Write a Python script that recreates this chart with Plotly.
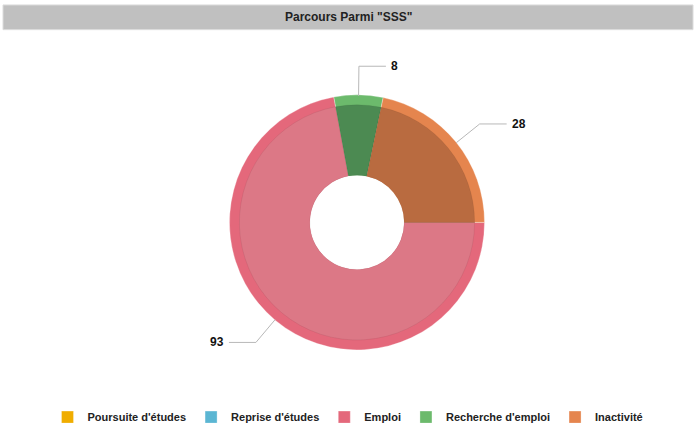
import math
import plotly.graph_objects as go

# ---- data ----
categories = ["Poursuite d'études", "Reprise d'études", "Emploi", "Recherche d'emploi", "Inactivité"]
values = [0, 0, 93, 8, 28]
title_text = 'Parcours Parmi "SSS"'

# ---- styles ----
rim_colors = ["#f0ad00", "#5bb6d3", "#e4687b", "#6cba6c", "#e5854e"]
inner_colors = ["#d99800", "#4a9ab5", "#dc7886", "#4c8a52", "#b96b40"]
W, H = 696, 432
cx, cy = 357, 225          # pie centre (px)
R_out, R_in, R_hole = 127, 117, 47
FONT = "Liberation Sans, Arial, sans-serif"

def dom(r):
    r = r + 2
    return dict(x=[(cx - r) / W, (cx + r) / W], y=[1 - (cy + r) / H, 1 - (cy - r) / H])

fig = go.Figure()
fig.add_trace(go.Pie(
    labels=categories, values=values, sort=False, direction="clockwise", rotation=90,
    hole=R_hole / R_out, domain=dom(R_out),
    marker=dict(colors=rim_colors, line=dict(color="rgba(255,255,255,0.6)", width=0.5)),
    textinfo="none", hoverinfo="label+value", showlegend=True,
))
fig.add_trace(go.Pie(
    labels=categories, values=values, sort=False, direction="clockwise", rotation=90,
    hole=R_hole / R_in, domain=dom(R_in),
    marker=dict(colors=inner_colors, line=dict(color="rgba(0,0,0,0.12)", width=0.5)),
    textinfo="none", hoverinfo="label+value", showlegend=False,
))

# leader lines + labels computed from the data
total = sum(values)
cum = 0
shapes = []
annotations = []
def px2paper(x, y):
    return x / W, 1 - y / H
for lab, v in zip(categories, values):
    if v > 0:
        mid = math.radians(90 + (cum + v / 2) / total * 360)
        sx, sy = math.sin(mid), -math.cos(mid)
        x0, y0 = cx + (R_out + 1) * sx, cy + (R_out + 1) * sy
        x1, y1 = cx + 158 * sx, cy + 158 * sy
        side = 1 if sx >= -0.02 else -1
        x2 = x1 + side * 27
        pts = [px2paper(*p) for p in [(x0, y0), (x1, y1), (x2, y1)]]
        path = "M {} {} L {} {} L {} {}".format(pts[0][0], pts[0][1], pts[1][0], pts[1][1], pts[2][0], pts[2][1])
        shapes.append(dict(type="path", xref="paper", yref="paper", path=path,
                           line=dict(color="#b8b8b8", width=1)))
        ax, ay = px2paper(x2 + side * 3, y1)
        annotations.append(dict(x=ax, y=ay, xref="paper", yref="paper", text=f"<b>{v}</b>",
                                showarrow=False, xanchor="left" if side > 0 else "right",
                                yanchor="middle", font=dict(size=12, color="#111", family=FONT)))
    cum += v

# title bar
shapes.insert(0, dict(type="rect", xref="paper", yref="paper", x0=3 / W, x1=693 / W,
                      y0=1 - 30 / H, y1=1 - 5 / H, fillcolor="#c0c0c0",
                      line=dict(color="#dcdcdc", width=1), layer="below"))
annotations.append(dict(x=0.5, y=1 - 17.5 / H, xref="paper", yref="paper", text=f"<b>{title_text}</b>",
                        showarrow=False, xanchor="center", yanchor="middle",
                        font=dict(size=12, color="#222", family=FONT)))

fig.update_layout(
    width=W, height=H, margin=dict(l=0, r=0, t=0, b=0),
    paper_bgcolor="white", plot_bgcolor="white",
    shapes=shapes, annotations=annotations,
    legend=dict(orientation="h", x=0.5, xanchor="center", y=1 - 422 / H, yanchor="middle",
                font=dict(size=11, color="#222", family=FONT, weight="bold"),
                itemwidth=30, traceorder="normal"),
)
fig.write_html("out.html", config={"displayModeBar": False},
               post_script="document.body.style.margin='0';document.body.style.overflow='hidden';")
